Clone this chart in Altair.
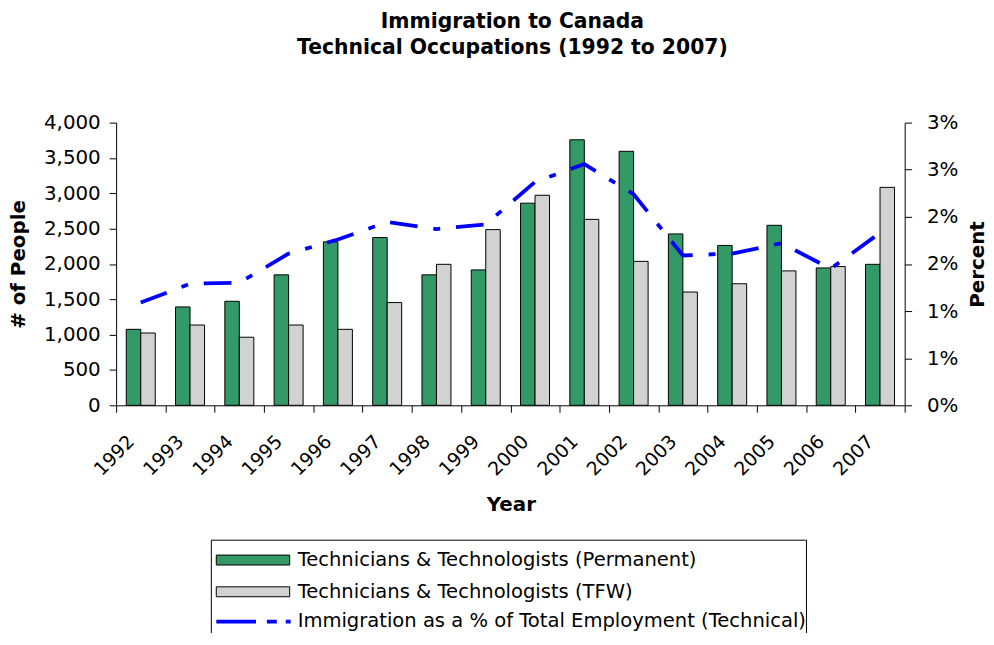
import altair as alt
import pandas as pd

FONT = "DejaVu Sans"

years = [str(y) for y in range(1992, 2008)]
permanent = [1075, 1392, 1472, 1846, 2313, 2374, 1846, 1916, 2860, 3757, 3594, 2425, 2262, 2547, 1944, 1995]
tfw = [1023, 1136, 963, 1136, 1075, 1454, 1995, 2486, 2972, 2631, 2037, 1603, 1720, 1902, 1963, 3084]
pct = [1.09, 1.29, 1.30, 1.61, 1.76, 1.945, 1.87, 1.92, 2.37, 2.56, 2.24, 1.59, 1.61, 1.72, 1.45, 1.83]

series_names = ["Technicians & Technologists (Permanent)", "Technicians & Technologists (TFW)"]
line_name = "Immigration as a % of Total Employment (Technical)"
bar_colors = ["#339966", "#d2d2d2"]
line_color = "#0000ff"

left_ticks = list(range(0, 4001, 500))
right_ticks = [0, 0.5, 1, 1.5, 2, 2.5, 3]

bars_df = pd.DataFrame({
    "Year": years * 2,
    "Series": [series_names[0]] * len(years) + [series_names[1]] * len(years),
    "People": permanent + tfw,
})
line_df = pd.DataFrame({"Year": years, "Pct": pct})

x_axis = alt.Axis(
    orient="bottom",
    title="Year", titleFont=FONT, titleFontSize=20, titleFontWeight="bold", titleColor="black",
    titleX=398, titleY=100, titleAlign="center", titleBaseline="middle",
    labelAngle=-45, labelAlign="right", labelBaseline="middle", labelFont=FONT, labelFontSize=19,
    labelColor="black", labelPadding=26, labelOffset=-10,
    tickBand="extent", tickSize=7, tickColor="black", domainColor="black", grid=False,
)
y_left = alt.Axis(
    orient="left", values=left_ticks, format=",.0f", title="# of People",
    titleFont=FONT, titleFontSize=20, titleFontWeight="bold", titleColor="black",
    titleAngle=-90, titleX=-98, titleY=142.5, titleAlign="center", titleBaseline="middle",
    labelFont=FONT, labelFontSize=20, labelColor="black", labelPadding=9,
    tickSize=7, tickColor="black", domainColor="black", grid=False,
)
y_right = alt.Axis(
    orient="right", values=right_ticks, labelExpr="round(datum.value) + '%'", title="Percent",
    titleFont=FONT, titleFontSize=20, titleFontWeight="bold", titleColor="black",
    titleAngle=-90, titleX=73, titleY=142.5, titleAlign="center", titleBaseline="middle",
    labelFont=FONT, labelFontSize=20, labelColor="black", labelPadding=15,
    tickSize=7, tickColor="black", domainColor="black", grid=False,
)

bars = alt.Chart(bars_df).mark_bar(stroke="black", strokeWidth=1).encode(
    x=alt.X("Year:N", sort=years, scale=alt.Scale(paddingInner=0, paddingOuter=0), axis=x_axis),
    xOffset=alt.XOffset("Series:N", sort=series_names,
                        scale=alt.Scale(paddingInner=0, paddingOuter=0.7)),
    y=alt.Y("People:Q", scale=alt.Scale(domain=[0, 4000], nice=False), axis=y_left),
    color=alt.Color("Series:N", scale=alt.Scale(domain=series_names, range=bar_colors), legend=None),
)

line = alt.Chart(line_df).mark_line(
    color=line_color, strokeWidth=3.8, strokeDash=[28, 16, 7, 16], strokeCap="butt"
).encode(
    x=alt.X("Year:N", sort=years, axis=x_axis),
    y=alt.Y("Pct:Q", scale=alt.Scale(domain=[0, 3], nice=False), axis=y_right),
)

main = alt.layer(bars, line).resolve_scale(y="independent")

one = pd.DataFrame({"k": [0]})
box = alt.Chart(one).mark_rect(fill="white", stroke="black", strokeWidth=1).encode(
    x=alt.value(96), x2=alt.value(696), y=alt.value(421), y2=alt.value(540)
)
sym1 = alt.Chart(one).mark_rect(fill=bar_colors[0], stroke="black", strokeWidth=1).encode(
    x=alt.value(101), x2=alt.value(175), y=alt.value(436), y2=alt.value(446)
)
sym2 = alt.Chart(one).mark_rect(fill=bar_colors[1], stroke="black", strokeWidth=1).encode(
    x=alt.value(101), x2=alt.value(175), y=alt.value(468), y2=alt.value(478)
)
sym3 = alt.Chart(one).mark_rule(color=line_color, strokeWidth=3.8, strokeDash=[40, 11, 10, 9],
                                strokeCap="butt").encode(
    x=alt.value(101), x2=alt.value(176), y=alt.value(503)
)
legend_labels = series_names + [line_name]
texts = [
    alt.Chart(one).mark_text(text=lab, align="left", baseline="middle", font=FONT,
                             fontSize=19.7, color="black").encode(x=alt.value(183), y=alt.value(yy))
    for lab, yy in zip(legend_labels, [441, 473, 503])
]

chart = alt.layer(main, box, sym1, sym2, sym3, *texts).properties(
    width=795, height=285,
    background="white",
    autosize=alt.AutoSizeParams(type="none"),
    padding={"left": 109, "top": 113, "right": 82, "bottom": 227},
    title=alt.TitleParams(
        text=["Immigration to Canada", "Technical Occupations (1992 to 2007)"],
        font=FONT, fontSize=20.5, fontWeight="bold", color="black", anchor="middle",
        frame="group", dx=2, offset=55, lineHeight=26,
    ),
).configure_view(
    strokeWidth=0, stroke="transparent"
).configure_axis(
    grid=False
).configure_axisTop(
    domain=False, ticks=False, labels=False
)

chart.save("out.html", embed_options={"renderer": "svg", "actions": False})
